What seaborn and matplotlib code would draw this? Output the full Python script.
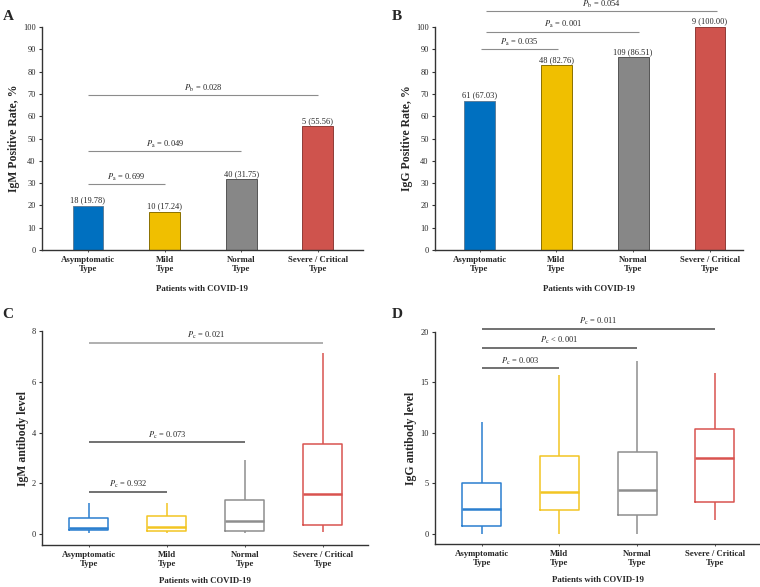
import numpy as np
import pandas as pd
import seaborn as sns
from matplotlib import pyplot as plt

# categories and values
groups = ["Asymptomatic\nType", "Mild\nType", "Normal\nType", "Severe / Critical\nType"]
igm_count = [18, 10, 40, 5]
igm_rate = [19.78, 17.24, 31.75, 55.56]
igg_count = [61, 48, 109, 9]
igg_rate = [67.03, 82.76, 86.51, 100.00]

# five-number summaries (low whisker, q1, median, q3, high whisker)
igm_level = [
    [0.04, 0.17, 0.23, 0.65, 1.22],
    [0.04, 0.13, 0.27, 0.71, 1.24],
    [0.04, 0.14, 0.50, 1.34, 2.92],
    [0.10, 0.37, 1.57, 3.55, 7.15],
]
igg_level = [
    [0.03, 0.82, 2.48, 5.07, 11.1],
    [0.03, 2.37, 4.11, 7.76, 15.7],
    [0.03, 1.88, 4.34, 8.16, 17.1],
    [1.41, 3.16, 7.50, 10.43, 15.95],
]

# significance brackets: (from, to, height, subscript, sign, p)
sig_a = [(0, 1, 29.5, "a", "=", "0.699"), (0, 2, 44.3, "a", "=", "0.049"), (0, 3, 69.4, "b", "=", "0.028")]
sig_b = [(0.02, 1.02, 90.0, "a", "=", "0.035"), (0.09, 2.08, 97.8, "a", "=", "0.001"), (0.09, 3.09, 107.0, "b", "=", "0.054")]
sig_c = [(0, 1, 1.66, "c", "=", "0.932"), (0, 2, 3.61, "c", "=", "0.073"), (0, 3, 7.53, "c", "=", "0.021")]
sig_d = [(0, 1, 16.4, "c", "=", "0.003"), (0, 2, 18.45, "c", "<", "0.001"), (0, 3, 20.3, "c", "=", "0.011")]

bar_colors = ["#0070C0", "#F0BF00", "#878787", "#CF534D"]
bar_edges = ["#5f7f9a", "#8a7000", "#555555", "#8f3b37"]
box_colors = ["#2b7fcf", "#F2C523", "#8e8e8e", "#d9534f"]

sns.set_style("white")
plt.rcParams["font.family"] = ["Liberation Serif", "DejaVu Serif"]
plt.rcParams["mathtext.fontset"] = "stix"

fig = plt.figure(figsize=(7.6, 5.87), dpi=100)
W, H = 760.0, 587.0


def make_ax(left, right, top, bottom):
    return fig.add_axes([left / W, 1 - bottom / H, (right - left) / W, (bottom - top) / H])


def style_ax(ax, ylabel, xpad):
    sns.despine(ax=ax)
    for s in ["left", "bottom"]:
        ax.spines[s].set_color("#333333")
        ax.spines[s].set_linewidth(1.0)
    ax.tick_params(axis="y", direction="out", length=2.5, width=0.8, labelsize=6, pad=2, left=True, color="#333333")
    ax.tick_params(axis="x", direction="out", length=1.5, width=0.6, labelsize=6.3, pad=3, bottom=True, color="#333333")
    for lab in ax.get_xticklabels():
        lab.set_fontweight("bold")
    ax.set_xlabel("Patients with COVID-19", fontsize=6.3, fontweight="bold", labelpad=xpad)
    ax.set_ylabel(ylabel, fontsize=8.5, fontweight="bold", labelpad=2)


def brackets(ax, sigs, color, lw, colors=None):
    for i, (a, b, y, sub, sign, p) in enumerate(sigs):
        c = colors[i] if colors else color
        ax.plot([a, b], [y, y], color=c, lw=lw, clip_on=False, solid_capstyle="butt")
        ax.annotate(r"$P_{\,\mathrm{%s}}$ %s %s" % (sub, sign, p), xy=((a + b) / 2, y),
                    xytext=(0, 1.2), textcoords="offset points", ha="center", va="bottom",
                    fontsize=6, annotation_clip=False)


def bar_panel(ax, counts, rates, ylabel, sigs, xlim):
    df = pd.DataFrame({"group": groups, "rate": rates})
    sns.barplot(data=df, x="group", y="rate", hue="group", palette=bar_colors,
                width=0.4, legend=False, ax=ax, saturation=1)
    for patch, ec in zip(ax.patches, bar_edges):
        patch.set_edgecolor(ec)
        patch.set_linewidth(0.7)
    labels = ["%d (%.2f)" % (n, r) for n, r in zip(counts, rates)]
    for cont, lab in zip(ax.containers, labels):
        ax.bar_label(cont, labels=[lab], padding=1, fontsize=6)
    ax.set_ylim(0, 100)
    ax.set_yticks(range(0, 101, 10))
    ax.set_xlim(*xlim)
    style_ax(ax, ylabel, 8)
    brackets(ax, sigs, "#8c8c8c", 0.8)


def box_panel(ax, levels, ylabel, sigs, ylim, yticks, colors=None):
    rows = [(g, v) for g, vals in zip(groups, levels) for v in vals]
    df = pd.DataFrame(rows, columns=["group", "level"])
    sns.boxplot(data=df, x="group", y="level", hue="group", palette=box_colors,
                fill=False, whis=np.inf, width=0.5, linewidth=1.1, showcaps=False,
                medianprops={"linewidth": 1.8}, legend=False, ax=ax)
    ax.set_ylim(*ylim)
    ax.set_yticks(yticks)
    ax.set_xlim(-0.6, 3.58)
    style_ax(ax, ylabel, 6)
    brackets(ax, sigs, "#4a4a4a", 1.1, colors)


ax_a = make_ax(42, 363, 27, 250)
bar_panel(ax_a, igm_count, igm_rate, "IgM Positive Rate, %", sig_a, (-0.6, 3.59))
ax_b = make_ax(435, 743, 27, 250)
bar_panel(ax_b, igg_count, igg_rate, "IgG Positive Rate, %", sig_b, (-0.58, 3.43))
ax_c = make_ax(42, 368, 331, 545)
box_panel(ax_c, igm_level, "IgM antibody level", sig_c, (-0.43, 8), [0, 2, 4, 6, 8],
          colors=["#4a4a4a", "#4a4a4a", "#9a9a9a"])
ax_d = make_ax(435, 760, 332, 544)
box_panel(ax_d, igg_level, "IgG antibody level", sig_d, (-1.0, 20), [0, 5, 10, 15, 20])

for letter, x, y in [("A", 8, 17), ("B", 397, 16), ("C", 8, 314), ("D", 397, 314)]:
    fig.text(x / W, 1 - y / H, letter, fontsize=11, fontweight="bold", ha="center", va="center")

fig.savefig("out.png", dpi=100)
